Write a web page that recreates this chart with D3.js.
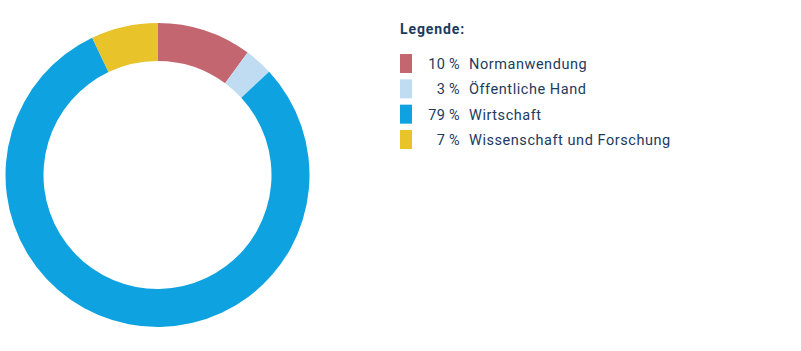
<!DOCTYPE html>
<html>
<head>
<meta charset="utf-8">
<script src="https://cdn.jsdelivr.net/npm/d3@7"></script>
<style>
  body { margin: 0; background: #fff; }
  text { font-family: Roboto, "Noto Sans", sans-serif; fill: #1b3b5e; }
</style>
</head>
<body>
<script>
const categories = ["Normanwendung", "Öffentliche Hand", "Wirtschaft", "Wissenschaft und Forschung"];
const values = [10, 3, 79, 7];
const colors = ["#c4666f", "#c0dcf3", "#0ea3e0", "#e8c32a"];

const width = 801, height = 351;
const cx = 157.5, cy = 175;
const outerR = 152, innerR = 114;

const svg = d3.select("body")
  .append("svg")
  .attr("width", width)
  .attr("height", height);

const pie = d3.pie().sort(null).value(d => d);
const arc = d3.arc().innerRadius(innerR).outerRadius(outerR);

// donut
svg.append("g")
  .attr("transform", `translate(${cx},${cy})`)
  .selectAll("path")
  .data(pie(values))
  .enter()
  .append("path")
  .attr("d", arc)
  .attr("fill", (d, i) => colors[i]);

// legend
const legend = svg.append("g").attr("transform", "translate(400,0)");

legend.append("text")
  .attr("x", 0)
  .attr("y", 34)
  .style("font-size", "14px")
  .style("font-weight", "bold")
  .style("letter-spacing", "0.9px")
  .text("Legende:");

const rowY = d3.scaleBand()
  .domain(categories)
  .range([54, 149])
  .paddingInner(0.25);

const rows = legend.selectAll(".row")
  .data(categories)
  .enter()
  .append("g")
  .attr("class", "row")
  .attr("transform", d => `translate(0,${rowY(d)})`);

rows.append("rect")
  .attr("width", 12)
  .attr("height", rowY.bandwidth())
  .attr("fill", (d, i) => colors[i]);

rows.append("text")
  .attr("x", 60)
  .attr("y", 15)
  .attr("text-anchor", "end")
  .style("font-size", "14.5px")
  .style("letter-spacing", "0.3px")
  .text((d, i) => values[i] + " %");

rows.append("text")
  .attr("x", 69)
  .attr("y", 15)
  .style("font-size", "14.5px")
  .style("letter-spacing", "0.55px")
  .text(d => d);
</script>
</body>
</html>
